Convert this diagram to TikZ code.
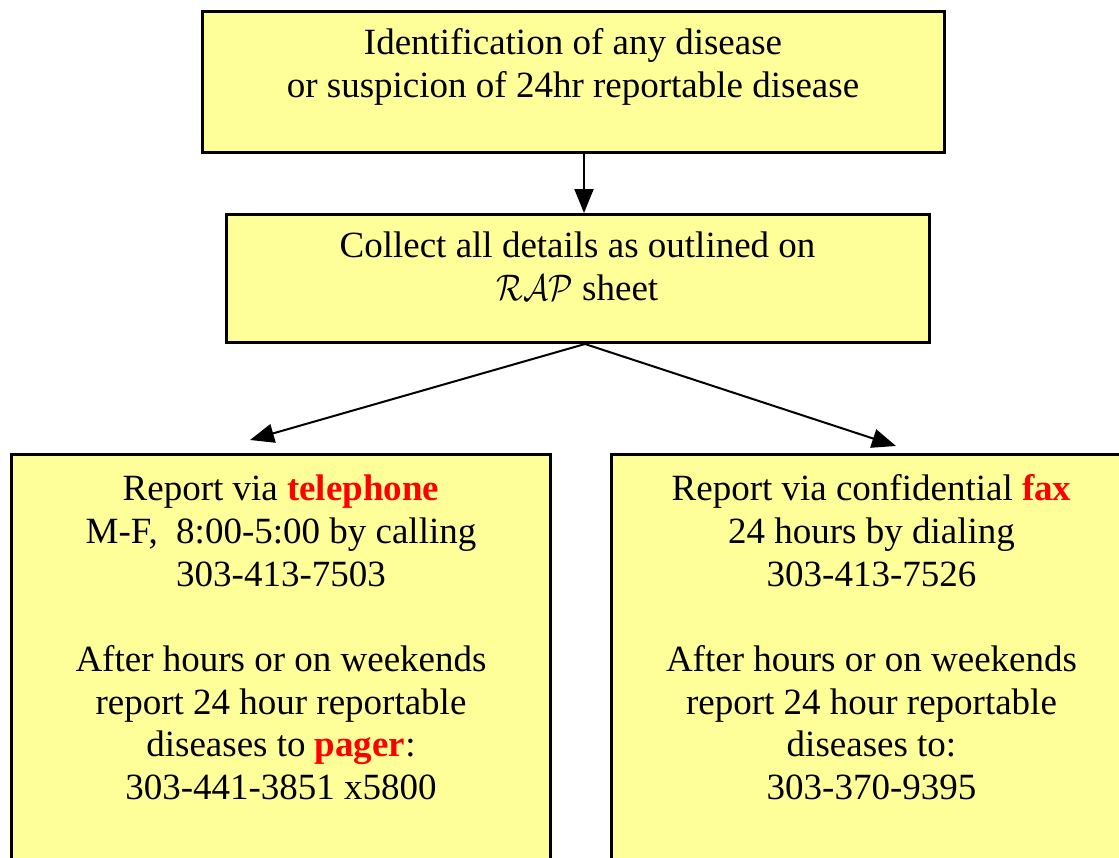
\documentclass[tikz,border=0pt]{standalone}
\usepackage{fix-cm}
\usepackage{fontspec}
\setmainfont{Liberation Serif}
\usetikzlibrary{arrows.meta, positioning}

\definecolor{notefill}{HTML}{FFFF99}
\definecolor{alertred}{HTML}{FF0000}
\newcommand{\hot}[1]{\textbf{\color{alertred}#1}}

\begin{document}
\begin{tikzpicture}[x=1pt, y=-1pt,
    box/.style={rectangle, draw, line width=3pt, fill=notefill, align=center, inner sep=0pt, font=\fontsize{37}{42.7}\selectfont},
    arr/.style={-{Triangle[length=24pt, width=19pt]}, line width=2pt}]

\clip (0,0) rectangle (1119,857);
\fill[white] (0,0) rectangle (1119,857);

\node[box, anchor=north, minimum width=742pt, text height=86pt, text depth=55pt] (ident) at (573,10) {Identification of any disease\\ or suspicion of 24hr reportable disease};

\node[box, anchor=north, minimum width=703pt, text height=86pt, text depth=42pt] (collect) at (577.5,213) {Collect all details as outlined on\\ \scalebox{0.85}[1]{$\mathcal{RAP}$} sheet};

    \draw [arr] ([xshift=11pt]ident.south) -- ([xshift=11pt]ident.south |- collect.north);


    \node[box, anchor=north west, minimum width=539pt, text height=345pt, text depth=420pt] (phone) at (10,453) {Report via \hot{telephone}\\ M-F,~ 8:00-5:00 by calling\\ 303-413-7503\\[42.7pt] After hours or on weekends\\ report 24 hour reportable\\ diseases to \hot{pager}:\\ 303-441-3851 x5800};

    \node[box, anchor=north west, minimum width=520pt, text height=345pt, text depth=420pt] (fax) at (610,453) {Report via confidential \hot{fax}\\ 24 hours by dialing\\ 303-413-7526\\[42.7pt] After hours or on weekends\\ report 24 hour reportable\\ diseases to:\\ 303-370-9395};

    \coordinate (phoneTip) at (250,440);
    \coordinate (faxTip) at (896,446);

    \draw [arr] ([xshift=7.5pt]collect.south) -- (phoneTip);

    \draw [arr] ([xshift=7.5pt]collect.south) -- (faxTip);

\end{tikzpicture}
\end{document}
